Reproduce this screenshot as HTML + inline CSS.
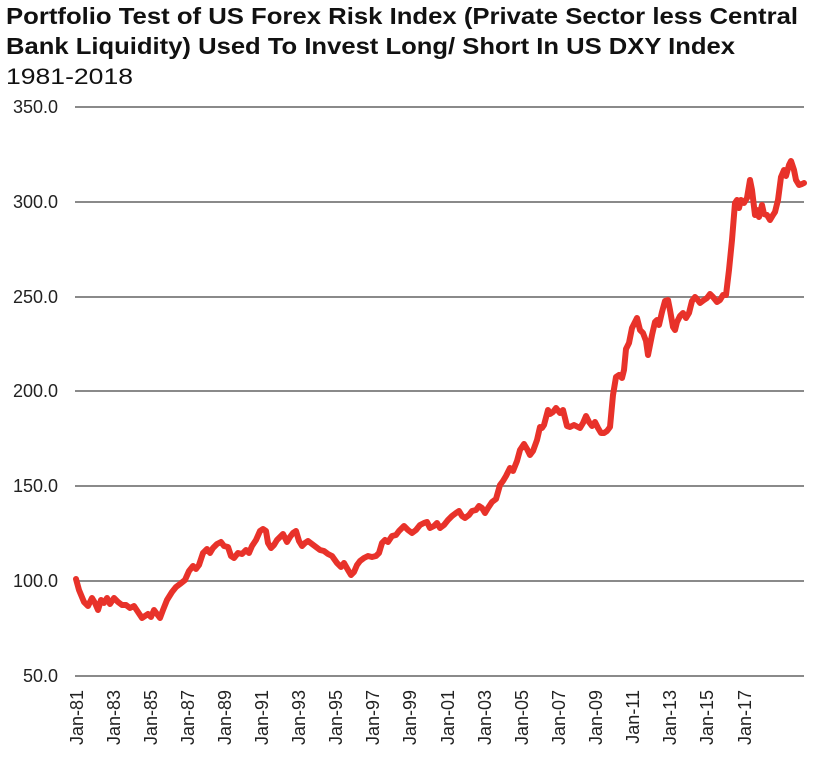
<!DOCTYPE html><html><head><style>body{margin:0;background:#fff;}</style></head><body>
<svg width="830" height="771" xmlns="http://www.w3.org/2000/svg" font-family="Liberation Sans, sans-serif">
<text x="6" y="24" font-size="23" font-weight="bold" fill="#111" textLength="792" lengthAdjust="spacingAndGlyphs">Portfolio Test of US Forex Risk Index (Private Sector less Central</text>
<text x="6" y="54" font-size="23" font-weight="bold" fill="#111" textLength="729" lengthAdjust="spacingAndGlyphs">Bank Liquidity) Used To Invest Long/ Short In US DXY Index</text>
<text x="6" y="84" font-size="22" fill="#111" textLength="127" lengthAdjust="spacingAndGlyphs">1981-2018</text>
<g stroke="#8a8a8a" stroke-width="2">
<line x1="75" x2="804" y1="107" y2="107"/><line x1="75" x2="804" y1="202" y2="202"/><line x1="75" x2="804" y1="297" y2="297"/><line x1="75" x2="804" y1="391" y2="391"/><line x1="75" x2="804" y1="486" y2="486"/><line x1="75" x2="804" y1="581" y2="581"/><line x1="75" x2="804" y1="676" y2="676"/>
</g>
<g font-size="18" fill="#222" text-anchor="end">
<text x="58" y="113">350.0</text><text x="58" y="208">300.0</text><text x="58" y="303">250.0</text><text x="58" y="397">200.0</text><text x="58" y="492">150.0</text><text x="58" y="587">100.0</text><text x="58" y="682">50.0</text>
</g>
<g font-size="18" fill="#222" text-anchor="end">
<text transform="translate(83,690) rotate(-90)">Jan-81</text>
<text transform="translate(120,690) rotate(-90)">Jan-83</text>
<text transform="translate(157,690) rotate(-90)">Jan-85</text>
<text transform="translate(194,690) rotate(-90)">Jan-87</text>
<text transform="translate(231,690) rotate(-90)">Jan-89</text>
<text transform="translate(268,690) rotate(-90)">Jan-91</text>
<text transform="translate(305,690) rotate(-90)">Jan-93</text>
<text transform="translate(342,690) rotate(-90)">Jan-95</text>
<text transform="translate(379,690) rotate(-90)">Jan-97</text>
<text transform="translate(416,690) rotate(-90)">Jan-99</text>
<text transform="translate(454,690) rotate(-90)">Jan-01</text>
<text transform="translate(491,690) rotate(-90)">Jan-03</text>
<text transform="translate(528,690) rotate(-90)">Jan-05</text>
<text transform="translate(565,690) rotate(-90)">Jan-07</text>
<text transform="translate(602,690) rotate(-90)">Jan-09</text>
<text transform="translate(639,690) rotate(-90)">Jan-11</text>
<text transform="translate(676,690) rotate(-90)">Jan-13</text>
<text transform="translate(713,690) rotate(-90)">Jan-15</text>
<text transform="translate(751,690) rotate(-90)">Jan-17</text>
</g>
<polyline fill="none" stroke="#e8322a" stroke-width="6" stroke-linejoin="round" stroke-linecap="round" points="76,579 79,590 84,602 88,606 92,598 95,603 98,610 101,600 104,603 107,598 110,604 114,598 118,602 122,605 126,605 130,608 134,606 138,612 142,618 145,616 148,614 151,617 154,610 157,614 160,618 163,610 167,600 172,592 176,587 180,584 185,580 189,571 193,566 196,569 199,565 203,553 207,549 210,553 213,548 217,544 221,542 224,546 228,547 231,556 234,558 238,553 242,554 246,550 249,553 252,546 256,540 260,531 263,529 266,531 268,543 271,548 274,545 277,540 280,537 283,534 287,542 290,537 293,533 296,531 299,541 302,546 305,543 308,541 312,544 316,547 320,550 324,551 328,554 332,556 337,563 341,567 344,563 348,570 351,575 354,572 357,565 360,561 364,558 368,556 372,557 376,556 379,553 382,543 385,540 388,542 392,536 396,535 399,531 404,526 408,530 412,533 416,530 420,525 424,523 427,522 430,528 434,526 437,523 440,528 444,525 448,520 452,516 456,513 459,511 462,516 465,518 469,515 472,511 476,510 479,506 482,508 485,513 488,508 492,502 496,499 500,485 503,481 506,476 510,468 513,471 517,461 520,450 524,444 527,449 530,455 533,451 537,440 540,427 542,428 544,425 548,410 550,414 553,412 556,408 560,413 563,410 567,426 570,427 574,425 578,427 580,428 583,423 586,416 589,422 592,426 595,422 598,428 601,433 604,433 607,431 610,427 613,395 616,377 619,375 622,378 624,370 626,349 629,343 632,328 635,322 637,318 640,330 643,333 646,341 648,355 650,345 652,335 655,322 657,320 659,325 662,312 665,301 668,300 670,310 673,327 675,330 677,322 680,316 683,313 686,318 689,313 692,301 695,297 697,299 700,303 704,300 707,298 710,294 713,297 717,302 720,300 723,295 726,295 729,270 732,240 735,203 737,200 739,208 741,200 744,203 747,198 750,180 752,190 755,215 757,210 759,217 762,205 764,214 767,215 770,220 773,215 775,212 778,200 781,177 784,170 786,176 789,165 791,161 794,170 796,180 799,185 802,184 804,183"/>
</svg>
</body></html>
